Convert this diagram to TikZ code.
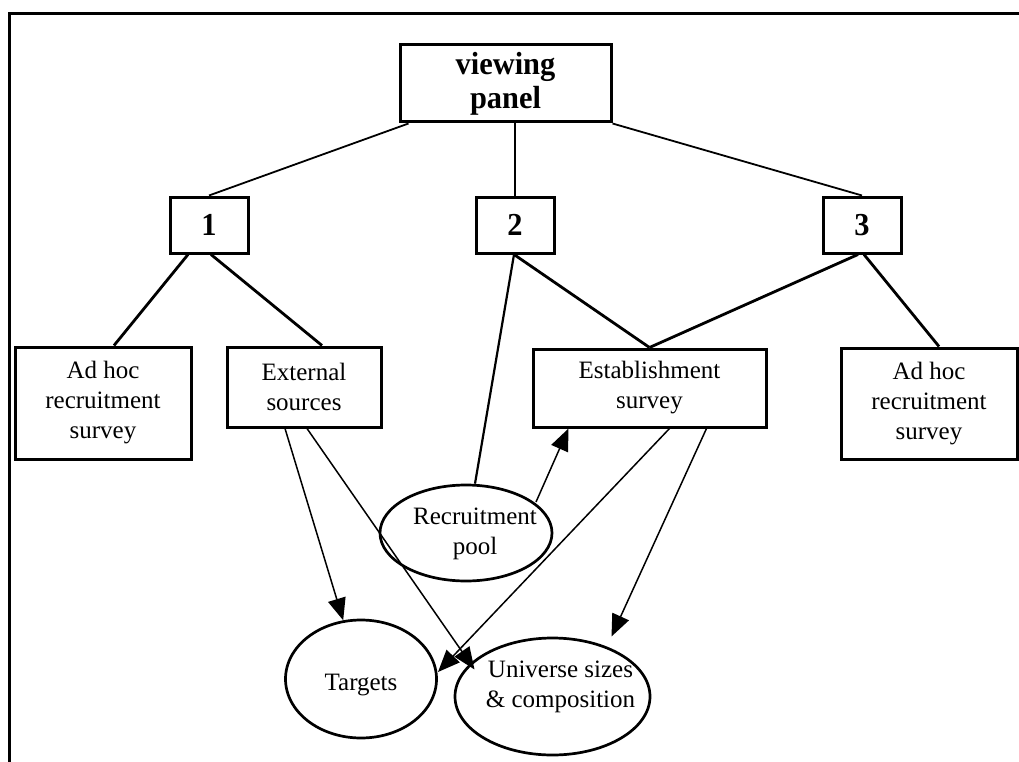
\documentclass[tikz,border=0pt]{standalone}
\usepackage{fontspec}
\setmainfont{Liberation Serif}
\newfontfamily\headfont{Liberation Serif}[FakeStretch=0.95]
\usetikzlibrary{shapes.geometric,arrows.meta,calc}

\tikzset{
  txt/.style={font=\fontsize{25}{30}\selectfont, align=center},
  hd/.style={font=\headfont\bfseries\fontsize{32}{34}\selectfont, align=center},
  box/.style={draw, line width=3pt, inner sep=0pt, txt},
  hdbox/.style={draw, line width=3pt, inner sep=0pt, hd},
  ell/.style={draw, ellipse, line width=2.7pt, inner sep=0pt},
  thinlink/.style={line width=1.8pt},
  thicklink/.style={line width=2.8pt},
  flow/.style={line width=1.5pt, -{Triangle[length=22pt,width=18pt]}},
}

\begin{document}
\begin{tikzpicture}[x=1pt,y=-1pt]
  \useasboundingbox (0,0) rectangle (1019,762);

  % outer frame (top and left edges)
  \draw[line width=3pt] (9,762) -- (9,14) -- (1019,14);

  % top node
  \node[hdbox, minimum width=211pt, minimum height=77pt] (vp) at (505.5,83.5) {viewing\\panel};

  % numbered options
  \node[hdbox, minimum width=78pt, minimum height=56pt] (b1) at (209,225) {1};
  \node[hdbox, minimum width=78pt, minimum height=56pt] (b2) at (515,225) {2};
  \node[hdbox, minimum width=78pt, minimum height=56pt] (b3) at (862,225) {3};

  % sources
  \node[box, minimum width=176pt, minimum height=112pt] (adl) at (103,403) {Ad hoc\\recruitment\\survey};
  \node[box, minimum width=154pt, minimum height=80pt] (ext) at (304,387) {External\\sources};
  \node[box, minimum width=233pt, minimum height=78pt] (est) at (649.5,388) {Establishment\\survey};
  \node[box, minimum width=176pt, minimum height=111pt] (adr) at (929,403.5) {Ad hoc\\recruitment\\survey};

  % outputs
  \node[ell, minimum width=172pt, minimum height=96pt,
        label={[txt, name=poolText, xshift=9pt, yshift=-1pt]center:Recruitment\\pool}] (pool) at (466,533) {};
  \node[ell, minimum width=151pt, minimum height=118pt,
        label={[txt, name=tgtText, yshift=-6pt]center:Targets}] (tgt) at (361,679) {};
  \node[ell, minimum width=195pt, minimum height=117pt,
        label={[txt, name=uniText, xshift=8pt, yshift=10pt]center:Universe sizes\\\& composition}] (uni) at (552.5,696.5) {};

  % tree from the top node
  \draw[thinlink] ($(vp.south west)+(10,0)$) -- (b1.north);
  \draw[thinlink] (vp.south -| b2.north) -- (b2.north);
  \draw[thinlink] (vp.south east) -- (b3.north);

  % options to their sources
  \draw[thicklink] ($(b1.south)+(-21,0)$) -- ($(adl.north)+(11,0)$);
  \draw[thicklink] ($(b1.south)+(2,0)$) -- ($(ext.north)+(18,0)$);
  \draw[thicklink] ($(b2.south)+(-1,0)$) -- (est.north);
  \draw[line width=2.2pt] ($(b2.south)+(-1,0)$) -- ($(pool.north)+(9,0)$);
  \draw[thicklink] ($(b3.south)+(-4,0)$) -- (est.north);
  \draw[thicklink] ($(b3.south)+(2,0)$) -- ($(adr.north)+(10,0)$);

  % information flows
  \draw[flow] ($(ext.south)+(-19,0)$) -- (tgt);
  \draw[flow] ($(ext.south)+(3,0)$) -- ($(uni.center)+(-78,-27)$);
  \draw[flow] ($(est.south)+(20,0)$) -- ($(tgt.center)+(77,-7)$);
  \draw[flow] ($(est.south)+(57,0)$) -- ($(uni.center)+(59,-60)$);
  \draw[flow] ($(pool.center)+(70,-31)$) -- ($(est.south west)+(37,0)$);
\end{tikzpicture}
\end{document}
